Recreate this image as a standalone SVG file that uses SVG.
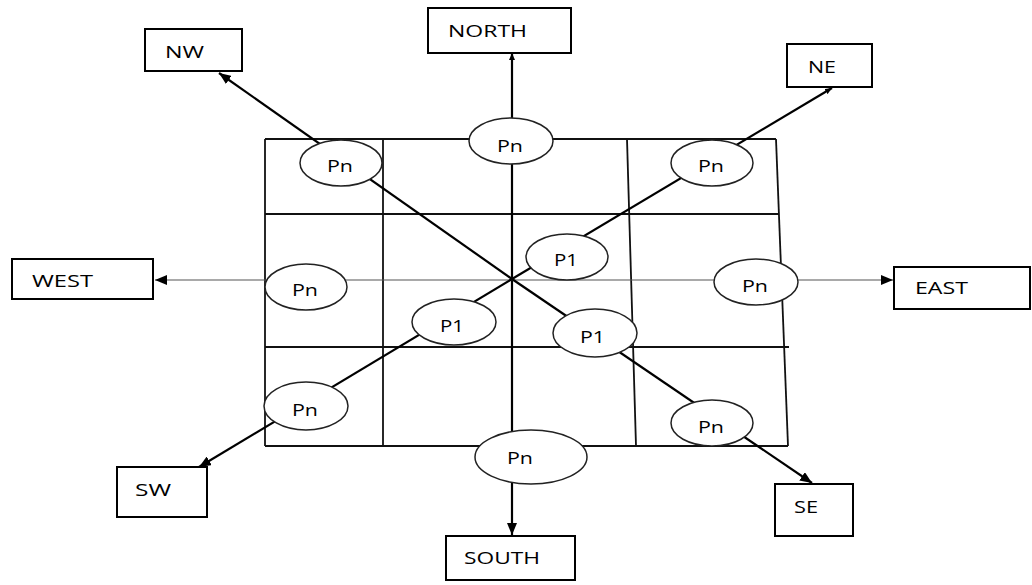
<svg xmlns="http://www.w3.org/2000/svg" width="1032" height="585" viewBox="0 0 1032 585">
<style>
.box{fill:#fff;stroke:#000;stroke-width:2}
.lbl{font-family:"Open Sans","Liberation Sans",sans-serif;font-size:17px;fill:#000}
.ell{fill:#fff;stroke:#222;stroke-width:1.5}
.grid{stroke:#111;stroke-width:1.8;fill:none}
.dir{stroke:#000;stroke-width:2.2;fill:none}
.thin{stroke:#555;stroke-width:1.2;fill:none}
</style>
<defs>
<marker id="ah" viewBox="0 0 12 10" refX="12" refY="5" markerWidth="12" markerHeight="10" markerUnits="userSpaceOnUse" orient="auto">
<path d="M0,0 L12,5 L0,10 Z" fill="#000"/>
</marker>
<marker id="ahs" viewBox="0 0 7 6" refX="7" refY="3" markerWidth="7" markerHeight="6" markerUnits="userSpaceOnUse" orient="auto">
<path d="M0,0 L7,3 L0,6 Z" fill="#000"/>
</marker>
</defs>
<g id="grid">
<line class="grid" x1="265" y1="139" x2="776" y2="139"/>
<line class="grid" x1="265" y1="214" x2="779" y2="214"/>
<line class="grid" x1="265" y1="347" x2="789" y2="347"/>
<line class="grid" x1="265" y1="446" x2="788" y2="446"/>
<line class="grid" x1="265" y1="139" x2="265" y2="446"/>
<line class="grid" x1="383" y1="139" x2="383" y2="446"/>
<line class="grid" x1="627" y1="139" x2="636" y2="446"/>
<line class="grid" x1="776" y1="139" x2="788" y2="446"/>
</g>
<g id="connectors">
<line class="dir" x1="512" y1="446" x2="512" y2="535" marker-end="url(#ah)"/>
<line class="dir" x1="512" y1="139" x2="512" y2="53" marker-end="url(#ahs)"/>
<line class="dir" x1="512" y1="139" x2="512" y2="446"/>
<line class="thin" x1="512" y1="280" x2="155" y2="280" marker-end="url(#ah)"/>
<line class="thin" x1="512" y1="280" x2="893" y2="280" marker-end="url(#ah)"/>
<line class="dir" x1="512" y1="279" x2="219" y2="73" marker-end="url(#ah)"/>
<line class="dir" x1="512" y1="279" x2="812" y2="483" marker-end="url(#ah)"/>
<line class="dir" x1="512" y1="279" x2="832" y2="88" marker-end="url(#ahs)"/>
<line class="dir" x1="512" y1="279" x2="199" y2="467" marker-end="url(#ah)"/>
</g>
<g id="north"><rect class="box" x="428" y="8" width="143" height="45"/><text class="lbl" x="448" y="37" textLength="79" lengthAdjust="spacingAndGlyphs">NORTH</text></g>
<g id="nw"><rect class="box" x="145" y="29" width="97" height="42"/><text class="lbl" x="165" y="58" textLength="39" lengthAdjust="spacingAndGlyphs">NW</text></g>
<g id="ne"><rect class="box" x="787" y="44" width="85" height="43"/><text class="lbl" x="808" y="73" textLength="28" lengthAdjust="spacingAndGlyphs">NE</text></g>
<g id="west"><rect class="box" x="12" y="259" width="141" height="40"/><text class="lbl" x="32" y="287" textLength="61" lengthAdjust="spacingAndGlyphs">WEST</text></g>
<g id="east"><rect class="box" x="894" y="267" width="136" height="42"/><text class="lbl" x="915" y="294" textLength="53" lengthAdjust="spacingAndGlyphs">EAST</text></g>
<g id="sw"><rect class="box" x="117" y="467" width="90" height="50"/><text class="lbl" x="135" y="496" textLength="36" lengthAdjust="spacingAndGlyphs">SW</text></g>
<g id="south"><rect class="box" x="446" y="536" width="129" height="44"/><text class="lbl" x="464" y="564" textLength="76" lengthAdjust="spacingAndGlyphs">SOUTH</text></g>
<g id="se"><rect class="box" x="775" y="484" width="78" height="52"/><text class="lbl" x="794" y="513" textLength="24" lengthAdjust="spacingAndGlyphs">SE</text></g>
<g id="pn-nw"><ellipse class="ell" cx="341" cy="163" rx="41" ry="23"/><text class="lbl" x="327" y="172" textLength="26" lengthAdjust="spacingAndGlyphs">Pn</text></g>
<g id="pn-n"><ellipse class="ell" cx="511" cy="141" rx="42" ry="23"/><text class="lbl" x="497" y="152" textLength="26" lengthAdjust="spacingAndGlyphs">Pn</text></g>
<g id="pn-ne"><ellipse class="ell" cx="712" cy="163" rx="41" ry="23"/><text class="lbl" x="698" y="172" textLength="26" lengthAdjust="spacingAndGlyphs">Pn</text></g>
<g id="pn-w"><ellipse class="ell" cx="306" cy="287" rx="41" ry="23"/><text class="lbl" x="292" y="296" textLength="26" lengthAdjust="spacingAndGlyphs">Pn</text></g>
<g id="pn-e"><ellipse class="ell" cx="756" cy="282" rx="42" ry="23"/><text class="lbl" x="742" y="292" textLength="26" lengthAdjust="spacingAndGlyphs">Pn</text></g>
<g id="p1-ne"><ellipse class="ell" cx="567" cy="257" rx="41" ry="23"/><text class="lbl" x="554" y="266" textLength="24" lengthAdjust="spacingAndGlyphs">P1</text></g>
<g id="p1-sw"><ellipse class="ell" cx="454" cy="322" rx="42" ry="23"/><text class="lbl" x="440" y="332" textLength="24" lengthAdjust="spacingAndGlyphs">P1</text></g>
<g id="p1-se"><ellipse class="ell" cx="595" cy="333" rx="42" ry="24"/><text class="lbl" x="580" y="343" textLength="25" lengthAdjust="spacingAndGlyphs">P1</text></g>
<g id="pn-sw"><ellipse class="ell" cx="306" cy="406" rx="42" ry="24"/><text class="lbl" x="292" y="416" textLength="26" lengthAdjust="spacingAndGlyphs">Pn</text></g>
<g id="pn-s"><ellipse class="ell" cx="531" cy="457" rx="56" ry="27"/><text class="lbl" x="507" y="464" textLength="26" lengthAdjust="spacingAndGlyphs">Pn</text></g>
<g id="pn-se"><ellipse class="ell" cx="712" cy="423" rx="41" ry="23"/><text class="lbl" x="698" y="433" textLength="26" lengthAdjust="spacingAndGlyphs">Pn</text></g>
</svg>
